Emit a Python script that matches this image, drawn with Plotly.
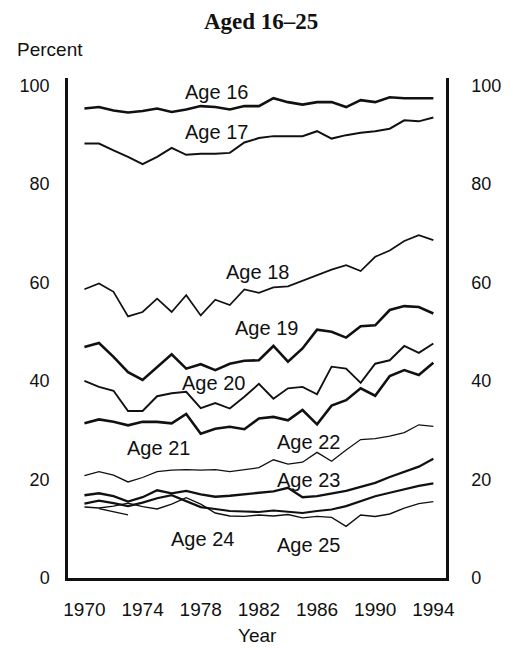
import plotly.graph_objects as go

years = list(range(1970, 1995))

age16 = [95.3, 95.6, 94.9, 94.5, 94.8, 95.3, 94.6, 95.1, 95.8, 95.6, 95.1, 95.8, 95.8,
         97.4, 96.6, 96.1, 96.6, 96.6, 95.6, 97.0, 96.6, 97.6, 97.4, 97.4, 97.4]
age17 = [88.2, 88.2, 86.8, 85.5, 84.0, 85.5, 87.3, 85.9, 86.1, 86.1, 86.3, 88.4, 89.3,
         89.7, 89.7, 89.7, 90.7, 89.2, 89.9, 90.4, 90.7, 91.2, 92.9, 92.7, 93.5]
age18 = [58.6, 59.8, 58.1, 53.1, 54.0, 56.7, 54.0, 57.4, 53.3, 56.5, 55.4, 58.6, 57.9,
         59.0, 59.2, 60.3, 61.5, 62.6, 63.5, 62.3, 65.2, 66.5, 68.4, 69.6, 68.6]
age19 = [46.9, 47.7, 44.9, 41.8, 40.2, 42.9, 45.4, 42.5, 43.4, 42.2, 43.5, 44.1, 44.2,
         47.1, 43.9, 46.6, 50.4, 50.0, 48.8, 51.1, 51.3, 54.4, 55.2, 55.0, 53.7]
age20 = [40.0, 38.8, 38.0, 33.9, 33.9, 36.9, 37.5, 37.8, 34.5, 35.5, 34.4, 36.8, 39.4,
         36.4, 38.5, 38.8, 37.3, 42.9, 42.5, 39.6, 43.5, 44.2, 47.1, 45.7, 47.6]
age21 = [31.4, 32.2, 31.7, 31.0, 31.7, 31.7, 31.4, 33.3, 29.3, 30.3, 30.7, 30.2, 32.4,
         32.7, 32.0, 34.1, 31.2, 35.0, 36.1, 38.5, 37.0, 41.0, 42.2, 41.2, 43.7]
age22 = [20.8, 21.6, 20.9, 19.5, 20.4, 21.6, 21.9, 22.0, 21.9, 22.0, 21.6, 22.0, 22.4,
         24.0, 23.1, 23.5, 25.5, 23.7, 26.0, 28.1, 28.3, 28.8, 29.5, 31.1, 30.8]
age23 = [16.8, 17.2, 16.6, 15.5, 16.4, 17.8, 17.2, 17.7, 17.0, 16.5, 16.7, 17.0, 17.3,
         17.6, 18.3, 16.4, 16.6, 17.2, 17.7, 18.5, 19.3, 20.5, 21.6, 22.6, 24.2]
age24 = [15.1, 15.7, 15.2, 14.6, 15.3, 16.2, 16.8, 15.6, 14.4, 14.0, 13.6, 13.5, 13.4,
         13.7, 13.5, 13.2, 13.6, 13.9, 14.6, 15.6, 16.6, 17.3, 18.0, 18.7, 19.2]
age25 = [14.4, 14.2, 14.6, 15.2, 14.5, 14.0, 15.0, 16.3, 15.0, 13.2, 12.6, 12.5, 12.8,
         12.6, 12.9, 12.2, 12.5, 12.3, 10.5, 12.8, 12.5, 13.0, 14.2, 15.1, 15.5]
fragment_years = [1971, 1972, 1973]
fragment_vals = [14.1, 13.4, 12.8]

series = [
    ("Age 16", age16, 2.6), ("Age 17", age17, 2.0), ("Age 18", age18, 1.7),
    ("Age 19", age19, 2.6), ("Age 20", age20, 1.9), ("Age 21", age21, 2.6),
    ("Age 22", age22, 1.3), ("Age 23", age23, 2.3), ("Age 24", age24, 2.2),
    ("Age 25", age25, 1.4),
]

label_pos = {
    "Age 16": (1979.1, 98.6), "Age 17": (1979.1, 90.5), "Age 18": (1981.9, 62.1),
    "Age 19": (1982.5, 50.7), "Age 20": (1978.9, 39.6), "Age 21": (1975.1, 26.3),
    "Age 22": (1985.4, 27.6), "Age 23": (1985.4, 19.9), "Age 24": (1978.1, 8.0),
    "Age 25": (1985.4, 6.7),
}

ytick_vals = [0, 20, 40, 60, 80, 100]
xtick_vals = [1970, 1974, 1978, 1982, 1986, 1990, 1994]

fig = go.Figure()
for name, vals, w in series:
    fig.add_trace(go.Scatter(x=years, y=vals, mode="lines", name=name,
                             line=dict(color="#111111", width=w)))
fig.add_trace(go.Scatter(x=fragment_years, y=fragment_vals, mode="lines",
                         line=dict(color="#111111", width=1.3), showlegend=False))

FONT = "Liberation Sans, Arial, sans-serif"
annotations = []
for name, (lx, ly) in label_pos.items():
    annotations.append(dict(x=lx, y=ly, xref="x", yref="y", text=name, showarrow=False,
                            xanchor="center", yanchor="middle",
                            font=dict(family=FONT, size=20, color="#111")))
annotations.append(dict(x=0.51, y=1.112, xref="paper", yref="paper", text="<b>Aged 16–25</b>",
                        showarrow=False, xanchor="center", yanchor="middle",
                        font=dict(family="Liberation Serif, Times New Roman, serif", size=23, color="#111")))
annotations.append(dict(x=-0.14, y=1.056, xref="paper", yref="paper", text="Percent",
                        showarrow=False, xanchor="left", yanchor="middle",
                        font=dict(family=FONT, size=19, color="#111")))
annotations.append(dict(x=0.5, y=-0.114, xref="paper", yref="paper", text="Year",
                        showarrow=False, xanchor="center", yanchor="middle",
                        font=dict(family=FONT, size=19, color="#111")))

fig.update_layout(
    width=505, height=640,
    margin=dict(l=60, r=55, t=70, b=70),
    paper_bgcolor="white", plot_bgcolor="white",
    showlegend=False,
    annotations=annotations,
    xaxis=dict(range=[1968.87, 1994.87], tickvals=xtick_vals, showgrid=False, zeroline=False,
               showline=True, linecolor="#111", linewidth=2.5, ticks="",
               ticklabelstandoff=12,
               tickfont=dict(family=FONT, size=19, color="#111")),
    yaxis=dict(range=[0, 101.5], tickvals=ytick_vals, showgrid=False, zeroline=False,
               showline=True, linecolor="#111", linewidth=2.5, ticks="",
               ticklabelstandoff=12,
               tickfont=dict(family=FONT, size=18, color="#111")),
    yaxis2=dict(range=[0, 101.5], tickvals=ytick_vals, overlaying="y", side="right",
                showgrid=False, zeroline=False, showline=True, linecolor="#111", linewidth=2.5,
                ticks="", ticklabelstandoff=19,
                tickfont=dict(family=FONT, size=18, color="#111")),
)
fig.add_trace(go.Scatter(x=[years[0]], y=[age16[0]], yaxis="y2", mode="markers",
                         marker=dict(opacity=0), hoverinfo="skip", showlegend=False))

fig.write_html("out.html")
